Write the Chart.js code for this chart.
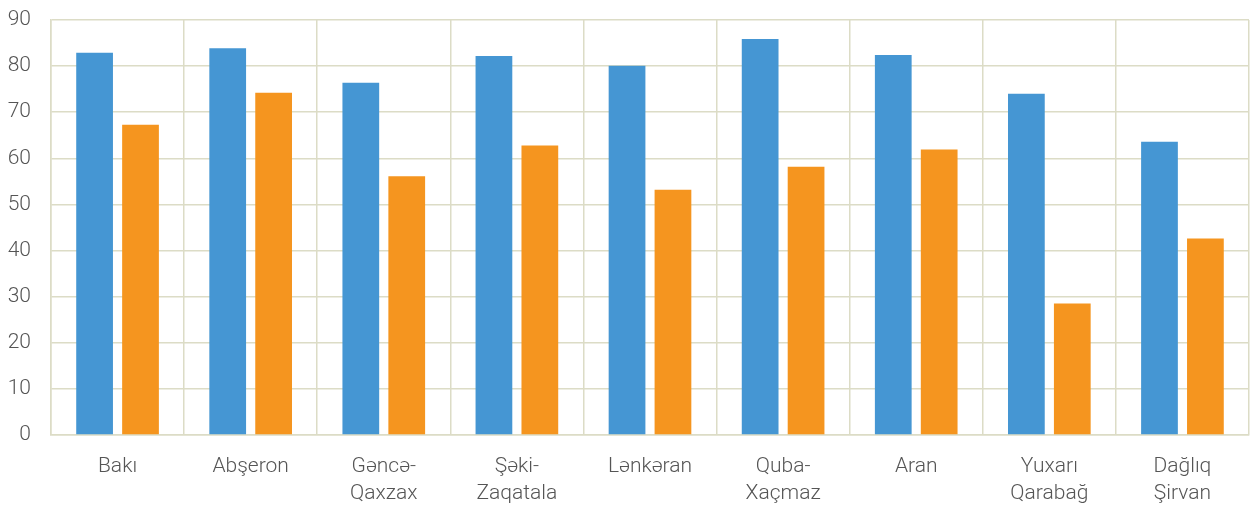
<!DOCTYPE html>
<html>
<head>
<meta charset="utf-8">
<script src="https://cdn.jsdelivr.net/npm/chart.js@4/dist/chart.umd.min.js"></script>
<style>
    html, body { margin: 0; padding: 0; background: #fff; }
    #wrap { width: 1256px; height: 507px; position: relative; }
</style>
</head>
<body>
<div id="wrap"><canvas id="regionChart"></canvas></div>
<script>
// Data
const regions = [
    'Bakı', 'Abşeron', ['Gəncə-', 'Qaxzax'], ['Şəki-', 'Zaqatala'], 'Lənkəran',
    ['Quba-', 'Xaçmaz'], 'Aran', ['Yuxarı', 'Qarabağ'], ['Dağlıq', 'Şirvan']
];
const blueValues = [82.9, 83.9, 76.4, 82.2, 80.1, 85.9, 82.4, 74.0, 63.6];
const orangeValues = [67.3, 74.2, 56.1, 62.8, 53.2, 58.2, 61.9, 28.5, 42.6];
const yTicks = [0, 10, 20, 30, 40, 50, 60, 70, 80, 90];

const gridColor = '#dcdcc6';
const labelColor = '#555555';

const ctx = document.getElementById('regionChart').getContext('2d');

new Chart(ctx, {
    type: 'bar',
    data: {
        labels: regions,
        datasets: [
            {
                data: blueValues,
                backgroundColor: '#4596d3',
                categoryPercentage: 0.69,
                barPercentage: 0.8
            },
            {
                data: orangeValues,
                backgroundColor: '#f5951f',
                categoryPercentage: 0.69,
                barPercentage: 0.8
            }
        ]
    },
    options: {
        responsive: true,
        maintainAspectRatio: false,
        animation: false,
        layout: {
            // the axes reserve more room than needed, pull the plot out to match
            padding: { top: 20, right: 7, left: -12.3, bottom: -18.2 }
        },
        plugins: {
            legend: { display: false },
            tooltip: { enabled: false }
        },
        scales: {
            x: {
                grid: {
                    color: gridColor,
                    lineWidth: 1.5,
                    drawTicks: false,
                    offset: true
                },
                border: { color: gridColor, width: 1.5 },
                ticks: {
                    color: labelColor,
                    padding: 18,
                    maxRotation: 0,
                    autoSkip: false,
                    font: { family: 'Roboto', size: 21, weight: 300, lineHeight: 1.29 }
                }
            },
            y: {
                min: 0,
                max: 90,
                afterBuildTicks: (axis) => {
                    axis.ticks = yTicks.map(v => ({ value: v }));
                },
                afterFit: (axis) => {
                    axis.paddingTop = 0;
                },
                grid: {
                    color: gridColor,
                    lineWidth: 1.5,
                    drawTicks: false
                },
                border: { color: gridColor, width: 1.5 },
                ticks: {
                    color: labelColor,
                    padding: 20,
                    font: { family: 'Roboto', size: 21, weight: 300 }
                }
            }
        }
    }
});
</script>
</body>
</html>
